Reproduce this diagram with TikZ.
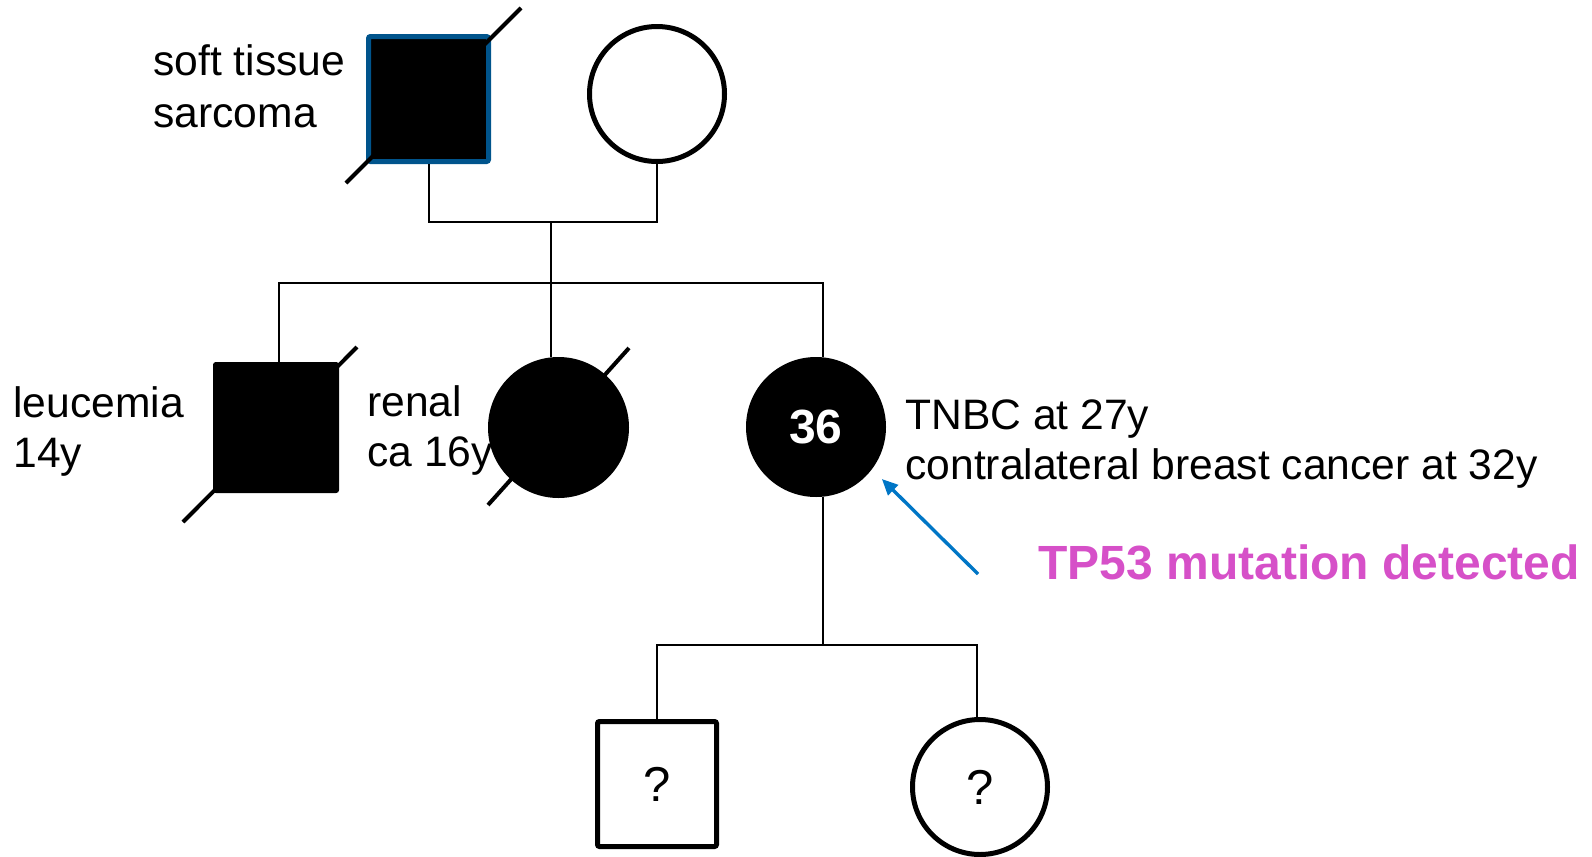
\documentclass[tikz,border=0pt]{standalone}
\usepackage{fontspec}
\setmainfont{Liberation Sans}
\usetikzlibrary{arrows.meta}
\definecolor{fborder}{RGB}{0,84,140}
\definecolor{arrowblue}{RGB}{0,118,198}
\definecolor{tpmag}{RGB}{214,80,200}
\tikzset{
  conn/.style={line width=1pt, black},
  pbox/.style={rectangle, draw, line width=2.5pt, inner sep=0pt, rounded corners=1pt},
  pcirc/.style={circle, draw, line width=2.5pt, inner sep=0pt},
  dslash/.style={line width=2pt, black},
  lbl/.style={anchor=base west, inner sep=0pt, font=\fontsize{21.3}{25}\selectfont},
  qmark/.style={font=\fontsize{24.5}{28}\selectfont},
}
\begin{document}
\begin{tikzpicture}[x=0.5pt, y=-0.5pt]
\useasboundingbox (0,0) rectangle (1592,857);

% generation I
\node[pbox, fill=black, draw=fborder, minimum width=60pt, minimum height=62.5pt] (fa) at (428.5,99) {};
\node[pcirc, minimum size=67.5pt] (mo) at (657,94) {};
\draw[dslash] (fa.center) ++(-82.5,84) -- ++(175,-175);

% generation II
\node[pbox, fill=black, line width=1pt, minimum width=62pt, minimum height=64.5pt] (le) at (276,427.5) {};
\node[pcirc, fill=black, line width=1pt, minimum size=69.5pt] (si) at (558.5,427.5) {};
\node[pcirc, fill=black, line width=1pt, minimum size=69pt, text=white,
      font=\fontsize{24}{26}\selectfont\bfseries] (pr) at (816,427) {36};
\draw[dslash] (le.center) ++(-93,94.5) -- ++(174,-175);
\draw[dslash] (si.center) ++(-70.5,77.5) -- ++(141,-157);

% generation III
\node[pbox, minimum width=59.5pt, minimum height=62.5pt, qmark] (c1) at (657,784) {?};
\node[pcirc, minimum size=67.5pt, qmark] (c2) at (980,787) {?};

% connectors
\coordinate (cp) at (551,222);
\coordinate (sib) at (551,283);
\coordinate (cs) at (823,645);
\draw[conn] (fa.south) |- (cp) -| (mo.south);
\draw[conn] (cp) -- (cp |- si.north);
\draw[conn] ([xshift=1.5pt]le.north) -- ([xshift=1.5pt]le.north |- sib) -- ([xshift=3.5pt]pr.north |- sib) -- ([xshift=3.5pt]pr.north);
\draw[conn] ([xshift=3.5pt]pr.south) -- (cs);
\draw[conn] (c1.north) |- (cs);
\draw[conn] ([xshift=-1.5pt]c2.north) |- (cs);

% labels
\node[lbl] (l1a) at (153,75) {soft tissue};
\node[lbl] (l1b) at (153,127) {sarcoma};
\node[lbl] (l2a) at (13,417) {leucemia};
\node[lbl] (l2b) at (13,467) {14y};
\node[lbl] (l3a) at (367,416) {renal};
\node[lbl] (l3b) at (367,466) {ca 16y};
\node[lbl] (l4a) at (905,429) {TNBC at 27y};
\node[lbl] (l4b) at (905,479) {contralateral breast cancer at 32y};
\node[anchor=base west, inner sep=0pt, text=tpmag, font=\fontsize{24}{27}\selectfont\bfseries] (tp) at (1038,579) {TP53 mutation detected};

% arrow
\coordinate (tail) at (978,574);
\draw[arrowblue, line width=1.7pt, -{Triangle[length=8pt,width=7pt]}, shorten >=7pt] (tail) -- (pr.-37);
\end{tikzpicture}
\end{document}
